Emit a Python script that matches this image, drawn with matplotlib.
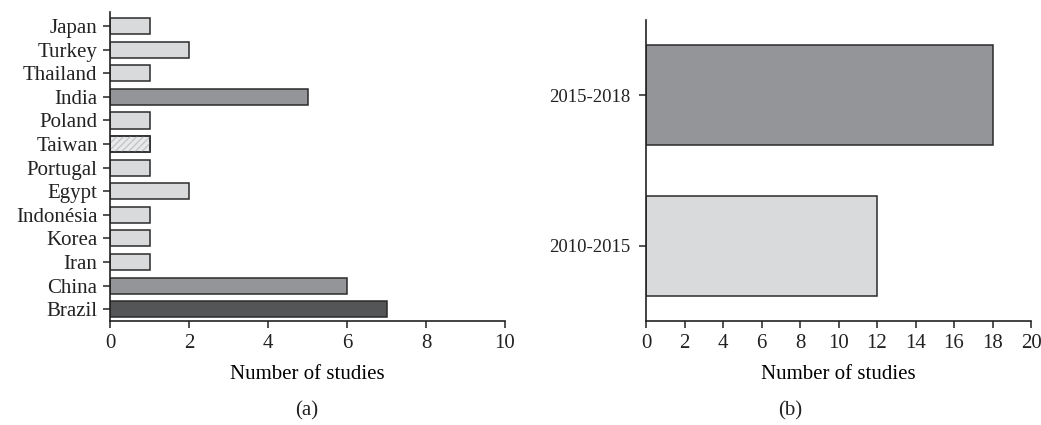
import matplotlib
matplotlib.use("Agg")
import matplotlib.pyplot as plt

plt.rcParams["font.family"] = "Liberation Serif"
plt.rcParams["font.size"] = 15
plt.rcParams["hatch.linewidth"] = 1.0

# Studies by country (bottom to top)
countries = ["Brazil", "China", "Iran", "Korea", "Indonésia", "Egypt", "Portugal",
             "Taiwan", "Poland", "India", "Thailand", "Turkey", "Japan"]
country_counts = [7, 6, 1, 1, 1, 2, 1, 1, 1, 5, 1, 2, 1]

# Studies by period
periods = ["2010-2015", "2015-2018"]
period_counts = [12, 18]

light = "#d9dadc"
mid = "#939598"
dark = "#545557"
edge = "#2b2b2b"

country_colors = [light] * len(countries)
country_colors[countries.index("Brazil")] = dark
country_colors[countries.index("China")] = mid
country_colors[countries.index("India")] = mid
country_colors[countries.index("Taiwan")] = "#e8e9ea"

fig = plt.figure(figsize=(10.41, 4.25), dpi=100)
ax1 = fig.add_axes([0.1057, 0.2447, 0.3794, 0.7271])
ax2 = fig.add_axes([0.6206, 0.2447, 0.3698, 0.7082])

ax1.barh(range(len(countries)), country_counts, height=0.68,
         color=country_colors, edgecolor=edge, linewidth=1.1)
# light diagonal texture on the Taiwan bar
ti = countries.index("Taiwan")
ax1.barh(ti, country_counts[ti], height=0.68, fill=False,
         hatch="/////", edgecolor="#c4c5c7", linewidth=0)
ax1.barh(ti, country_counts[ti], height=0.68, fill=False,
         edgecolor=edge, linewidth=1.1)
ax1.set_yticks(range(len(countries)))
ax1.set_yticklabels(countries)
ax1.set_ylim(-0.5, 12.6)
ax1.set_xlim(0, 10)
ax1.set_xticks(range(0, 11, 2))
ax1.set_xlabel("Number of studies", labelpad=9)

ax2.barh(range(len(periods)), period_counts, height=0.667,
         color=[light, mid], edgecolor=edge, linewidth=1.1)
ax2.set_yticks(range(len(periods)))
ax2.set_yticklabels(periods, fontsize=13.5)
ax2.set_ylim(-0.5, 1.5)
ax2.set_xlim(0, 20)
ax2.set_xticks(range(0, 21, 2))
ax2.set_xlabel("Number of studies", labelpad=9)

for ax in (ax1, ax2):
    ax.spines["top"].set_visible(False)
    ax.spines["right"].set_visible(False)
    for s in ("left", "bottom"):
        ax.spines[s].set_linewidth(1.2)
        ax.spines[s].set_color("#222222")
    ax.tick_params(axis="both", length=5, width=1.1, color="#222222",
                   labelcolor="#222222", pad=4)
ax2.tick_params(axis="y", pad=6)

fig.text(0.295, 0.033, "(a)", ha="center", va="center", color="#222222")
fig.text(0.759, 0.033, "(b)", ha="center", va="center", color="#222222")

fig.savefig("out.png", dpi=100)
